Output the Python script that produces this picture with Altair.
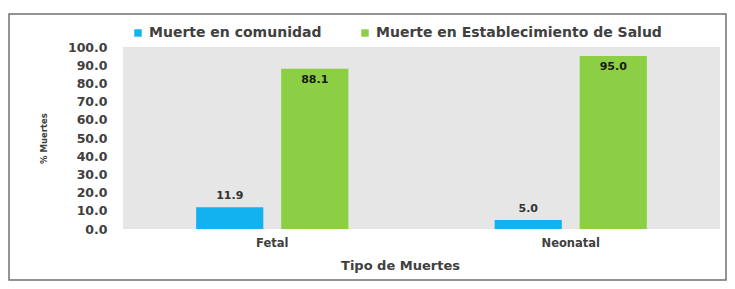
import altair as alt
import pandas as pd

categorias = ["Fetal", "Neonatal"]
comunidad = [11.9, 5.0]
establecimiento = [88.1, 95.0]
series = ["Muerte en comunidad", "Muerte en Establecimiento de Salud"]
y_ticks = [0, 10, 20, 30, 40, 50, 60, 70, 80, 90, 100]

rows = []
for c, a, b in zip(categorias, comunidad, establecimiento):
    rows.append({"tipo": c, "serie": series[0], "valor": a})
    rows.append({"tipo": c, "serie": series[1], "valor": b})
df = pd.DataFrame(rows)

FONT = "DejaVu Sans"
GREY = "#404040"

x_enc = alt.X("tipo:N", sort=categorias,
              scale=alt.Scale(paddingInner=0, paddingOuter=0),
              axis=alt.Axis(title="Tipo de Muertes", labelAngle=0, ticks=False,
                            domain=False, labelPadding=8, titlePadding=11,
                            titleX=277, titleAnchor="middle",
                            labelFont=FONT, labelFontSize=11.5, labelFontWeight="bold",
                            labelColor=GREY, titleFont=FONT, titleFontSize=13,
                            titleFontWeight="bold", titleColor=GREY))
y_enc = alt.Y("valor:Q", scale=alt.Scale(domain=[0, 100], nice=False),
              axis=alt.Axis(title="% Muertes", values=y_ticks, format=".1f",
                            ticks=False, domain=False, grid=False, labelPadding=16,
                            labelFont=FONT, labelFontSize=12.5, labelFontWeight="bold",
                            labelColor=GREY, titleFont=FONT, titleFontSize=8.5,
                            titleFontWeight="bold", titleColor=GREY, titlePadding=19))
xoff = alt.XOffset("serie:N", sort=series,
                   scale=alt.Scale(paddingInner=0.21, paddingOuter=0.86))
color = alt.Color("serie:N", sort=series,
                  scale=alt.Scale(domain=series, range=["#12B2EE", "#8CCF45"]),
                  legend=alt.Legend(title=None, orient="none", direction="horizontal",
                                    legendX=8, legendY=-21, symbolType="square",
                                    symbolSize=55, columnPadding=36, labelLimit=0,
                                    labelFont=FONT, labelFontSize=14,
                                    labelFontWeight="bold", labelColor=GREY))

base = alt.Chart(df)

frame = alt.Chart(pd.DataFrame({"k": [0]})).mark_rect(
    fill="transparent", stroke="#707070", strokeWidth=1.5
).encode(x=alt.value(-114), x2=alt.value(603), y=alt.value(-33), y2=alt.value(233))

bars = base.mark_bar().encode(x=x_enc, xOffset=xoff, y=y_enc, color=color)

txt_green = base.transform_filter(alt.datum.serie == series[1]).mark_text(
    baseline="top", dy=5, font=FONT, fontSize=11, fontWeight="bold", color="#1a1a1a"
).encode(x=x_enc, xOffset=xoff, y=y_enc, text=alt.Text("valor:Q", format=".1f"))

txt_blue = base.transform_filter(alt.datum.serie == series[0]).mark_text(
    baseline="bottom", dy=-6, font=FONT, fontSize=11, fontWeight="bold", color="#333333"
).encode(x=x_enc, xOffset=xoff, y=y_enc, text=alt.Text("valor:Q", format=".1f"))

chart = alt.layer(frame, bars, txt_green, txt_blue).properties(
    width=597, height=182,
    autosize=alt.AutoSizeParams(type="none"),
    padding={"left": 115, "top": 39, "right": 7, "bottom": 52},
    background="white",
).configure_view(fill="#e6e6e6", stroke=None)

chart.save("out.html", embed_options={"renderer": "svg", "actions": False})
